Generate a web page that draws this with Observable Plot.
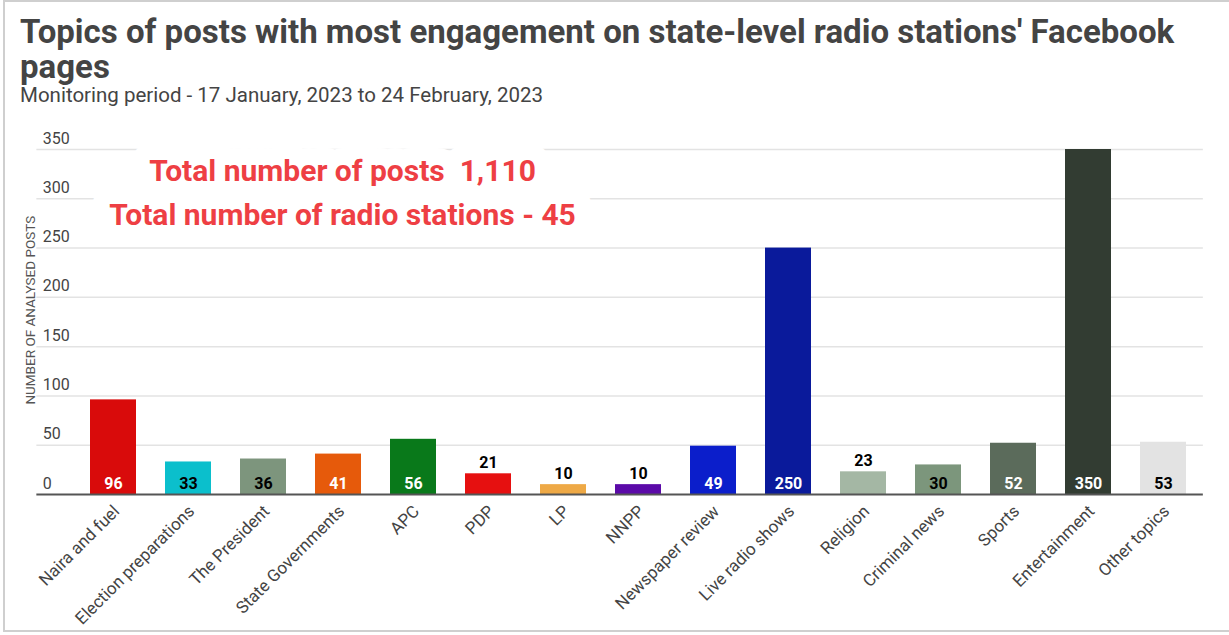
<!DOCTYPE html>
<html>
<head>
<meta charset="utf-8">
<script src="https://cdn.jsdelivr.net/npm/d3@7"></script>
<script src="https://cdn.jsdelivr.net/npm/@observablehq/plot@0.6"></script>
<style>
  html, body { margin: 0; padding: 0; background: #fff; }
  body { width: 1229px; height: 635px; overflow: hidden; position: relative; font-family: Roboto, sans-serif; }
  #frame { position: absolute; left: 3px; top: 0px; width: 1240px; height: 632px; border: 2px solid #cfcfcf; box-sizing: border-box; pointer-events: none; }
  #head { position: absolute; left: 20px; top: 0; width: 1205px; height: 110px; }
  .title { position: absolute; left: 0; font-size: 33px; font-weight: 700; color: #444; line-height: 33px; height: 33px; white-space: nowrap; }
  #title1 { top: 15px; }
  #title2 { top: 50px; }
  #subtitle { position: absolute; top: 84px; left: 0; font-size: 20.5px; color: #444; white-space: nowrap; line-height: 22px; }
  #chart { position: absolute; left: 0; top: 110px; }
</style>
</head>
<body>
<div id="head">
  <div class="title" id="title1">Topics of posts with most engagement on state-level radio stations' Facebook</div>
  <div class="title" id="title2">pages</div>
  <div id="subtitle">Monitoring period - 17 January, 2023 to 24 February, 2023</div>
</div>
<div id="chart"></div>
<div id="frame"></div>
<script>
const categories = ["Naira and fuel", "Election preparations", "The President", "State Governments", "APC", "PDP", "LP", "NNPP", "Newspaper review", "Live radio shows", "Religion", "Criminal news", "Sports", "Entertainment", "Other topics"];
const values = [96, 33, 36, 41, 56, 21, 10, 10, 49, 250, 23, 30, 52, 350, 53];
const barColors = ["#d90b0b", "#0bbfcc", "#7d957d", "#e65a0b", "#09791a", "#e61010", "#eea946", "#5b0aa8", "#0b1ecb", "#0a1a9b", "#a4b7a4", "#7c967c", "#5b6b5b", "#323c32", "#e3e3e3"];
const labelColors = ["white", "black", "black", "white", "white", "black", "black", "black", "white", "white", "black", "black", "white", "white", "black"];
const yTicks = [0, 50, 100, 150, 200, 250, 300, 350];
const notes = ["Total number of posts  1,110", "Total number of radio stations - 45"];
const noteValues = [328, 283];
const noteAnchor = "State Governments";
const yTitle = "NUMBER OF ANALYSED POSTS";

const data = categories.map((c, i) => ({category: c, value: values[i], color: barColors[i], labelColor: labelColors[i], inside: values[i] >= 30}));

const chart = Plot.plot({
  width: 1229,
  height: 525,
  marginLeft: 73.35,
  marginRight: 26.15,
  marginTop: 39,
  marginBottom: 141,
  style: {fontFamily: "Roboto, sans-serif", background: "transparent"},
  x: {domain: categories, paddingInner: 0.39, paddingOuter: 0.195, axis: null},
  y: {domain: [0, 350], axis: null},
  color: {type: "identity"},
  marks: [
    Plot.ruleY(yTicks.slice(1), {stroke: "#e3e3e3", strokeWidth: 1.5, insetLeft: -37}),
    Plot.text(notes, {x: () => noteAnchor, y: (d, i) => noteValues[i], text: d => d, dx: 4, fontSize: 30, fontWeight: "bold", fill: "#ee3f44", stroke: "white", strokeWidth: 34, paintOrder: "stroke", strokeLinejoin: "round"}),
    Plot.text(yTicks, {y: d => d, text: d => String(d), frameAnchor: "left", textAnchor: "start", dx: -31, dy: -11, fontSize: 16, fill: "#444"}),
    Plot.text([yTitle], {y: () => 187, text: d => d, frameAnchor: "left", textAnchor: "middle", dx: -43, rotate: -90, fontSize: 13.5, fill: "#555"}),
    Plot.barY(data, {x: "category", y: "value", fill: "color"}),
    Plot.ruleY([0], {stroke: "#555", strokeWidth: 2, insetLeft: -37}),
    Plot.text(data, {x: "category", y: d => d.inside ? 0 : d.value, text: d => String(d.value), dy: -11, lineAnchor: "middle", fill: d => d.inside ? d.labelColor : "black", fontSize: 16, fontWeight: "bold"}),
    Plot.text(data, {x: "category", text: "category", frameAnchor: "bottom", textAnchor: "end", lineAnchor: "middle", rotate: -45, dx: 3, dy: 14, fontSize: 17, fill: "#444"})
  ]
});
document.getElementById("chart").appendChild(chart);
</script>
</body>
</html>
